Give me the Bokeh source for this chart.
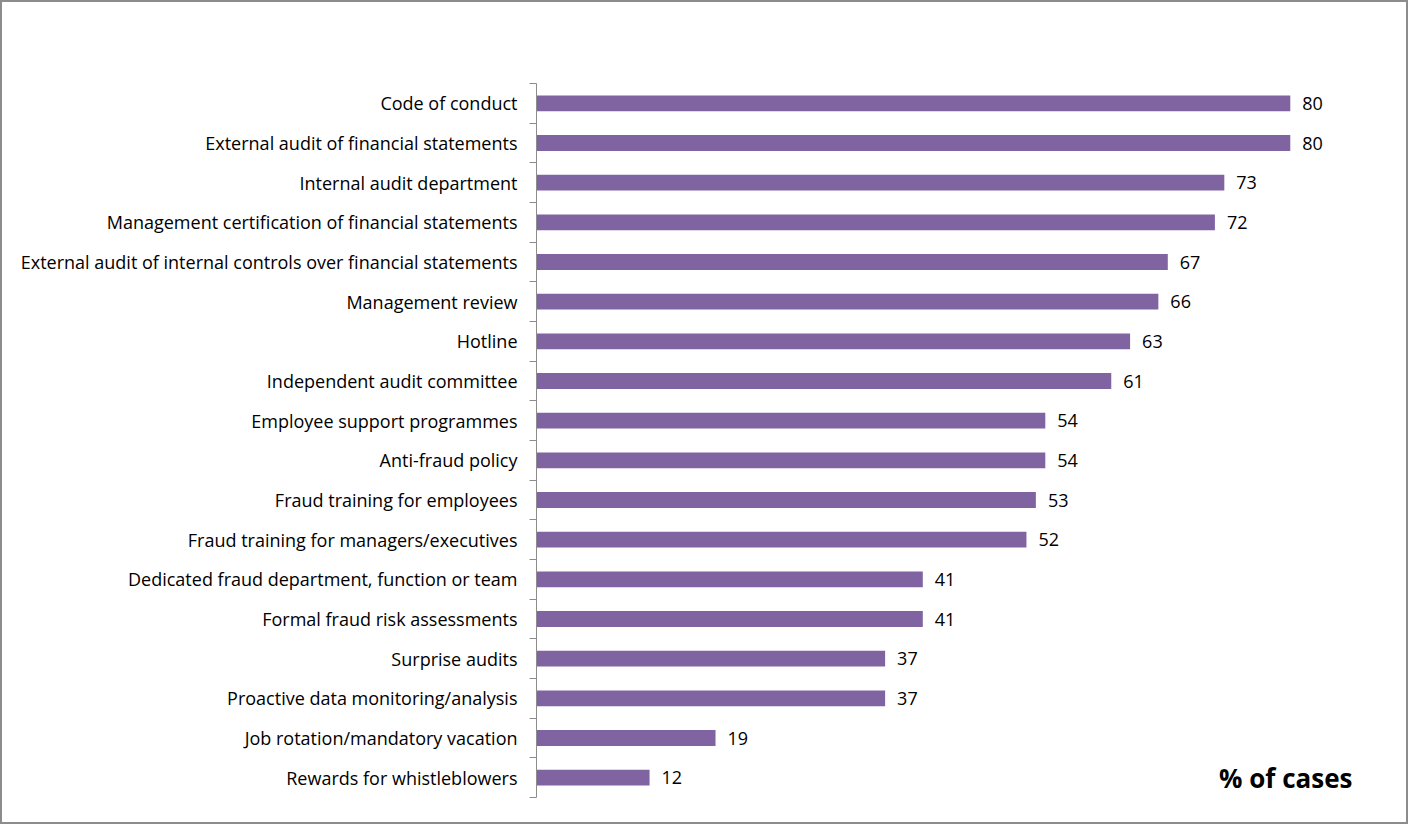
from bokeh.plotting import figure
from bokeh.models import ColumnDataSource, FixedTicker, Label, Range1d
from bokeh.core.properties import value
from bokeh.embed import file_html
from bokeh.resources import INLINE

categories = [
    "Code of conduct",
    "External audit of financial statements",
    "Internal audit department",
    "Management certification of financial statements",
    "External audit of internal controls over financial statements",
    "Management review",
    "Hotline",
    "Independent audit committee",
    "Employee support programmes",
    "Anti-fraud policy",
    "Fraud training for employees",
    "Fraud training for managers/executives",
    "Dedicated fraud department, function or team",
    "Formal fraud risk assessments",
    "Surprise audits",
    "Proactive data monitoring/analysis",
    "Job rotation/mandatory vacation",
    "Rewards for whistleblowers",
]
values = [80, 80, 73, 72, 67, 66, 63, 61, 54, 54, 53, 52, 41, 41, 37, 37, 19, 12]
axis_title = "% of cases"

n = len(categories)
ypos = [n - 1 - i for i in range(n)]
FONT = "Open Sans"

src = ColumnDataSource(dict(y=ypos, v=values, lab=[str(v) for v in values]))

p = figure(width=1408, height=824, output_backend="svg", toolbar_location=None,
           x_range=Range1d(0, 90), y_range=Range1d(-0.5, n - 0.5),
           min_border_left=534, min_border_right=26, min_border_top=81, min_border_bottom=29)
p.styles = {"border": "2px solid #8c8c8c"}
p.outline_line_color = None
p.xgrid.visible = False
p.ygrid.visible = False
p.xaxis.visible = False

p.hbar(y="y", right="v", left=0, height=0.4, source=src, color="#8064A2", line_color=None)
p.text(x="v", y="y", text="lab", source=src, x_offset=12, text_baseline="middle",
       text_align="left", text_font=value(FONT), text_font_size="18px", text_color="#000000")

yax = p.yaxis[0]
yax.ticker = FixedTicker(ticks=ypos, minor_ticks=[k - 0.5 for k in range(n + 1)])
yax.major_label_overrides = {y: c for y, c in zip(ypos, categories)}
yax.major_tick_line_color = None
yax.major_tick_out = 0
yax.major_tick_in = 0
yax.minor_tick_line_color = "#8c8c8c"
yax.minor_tick_out = 7
yax.minor_tick_in = 0
yax.axis_line_color = "#8c8c8c"
yax.axis_line_width = 1
yax.major_label_standoff = 12
yax.major_label_text_font = FONT
yax.major_label_text_font_size = "18px"
yax.major_label_text_color = "#000000"

p.add_layout(Label(x=86.6, y=ypos[-1], text=axis_title, text_align="right",
                   text_baseline="middle", text_font=FONT, text_font_size="26px",
                   text_font_style="bold", text_color="#000000"))

open("out.html", "w").write(file_html(p, INLINE))
